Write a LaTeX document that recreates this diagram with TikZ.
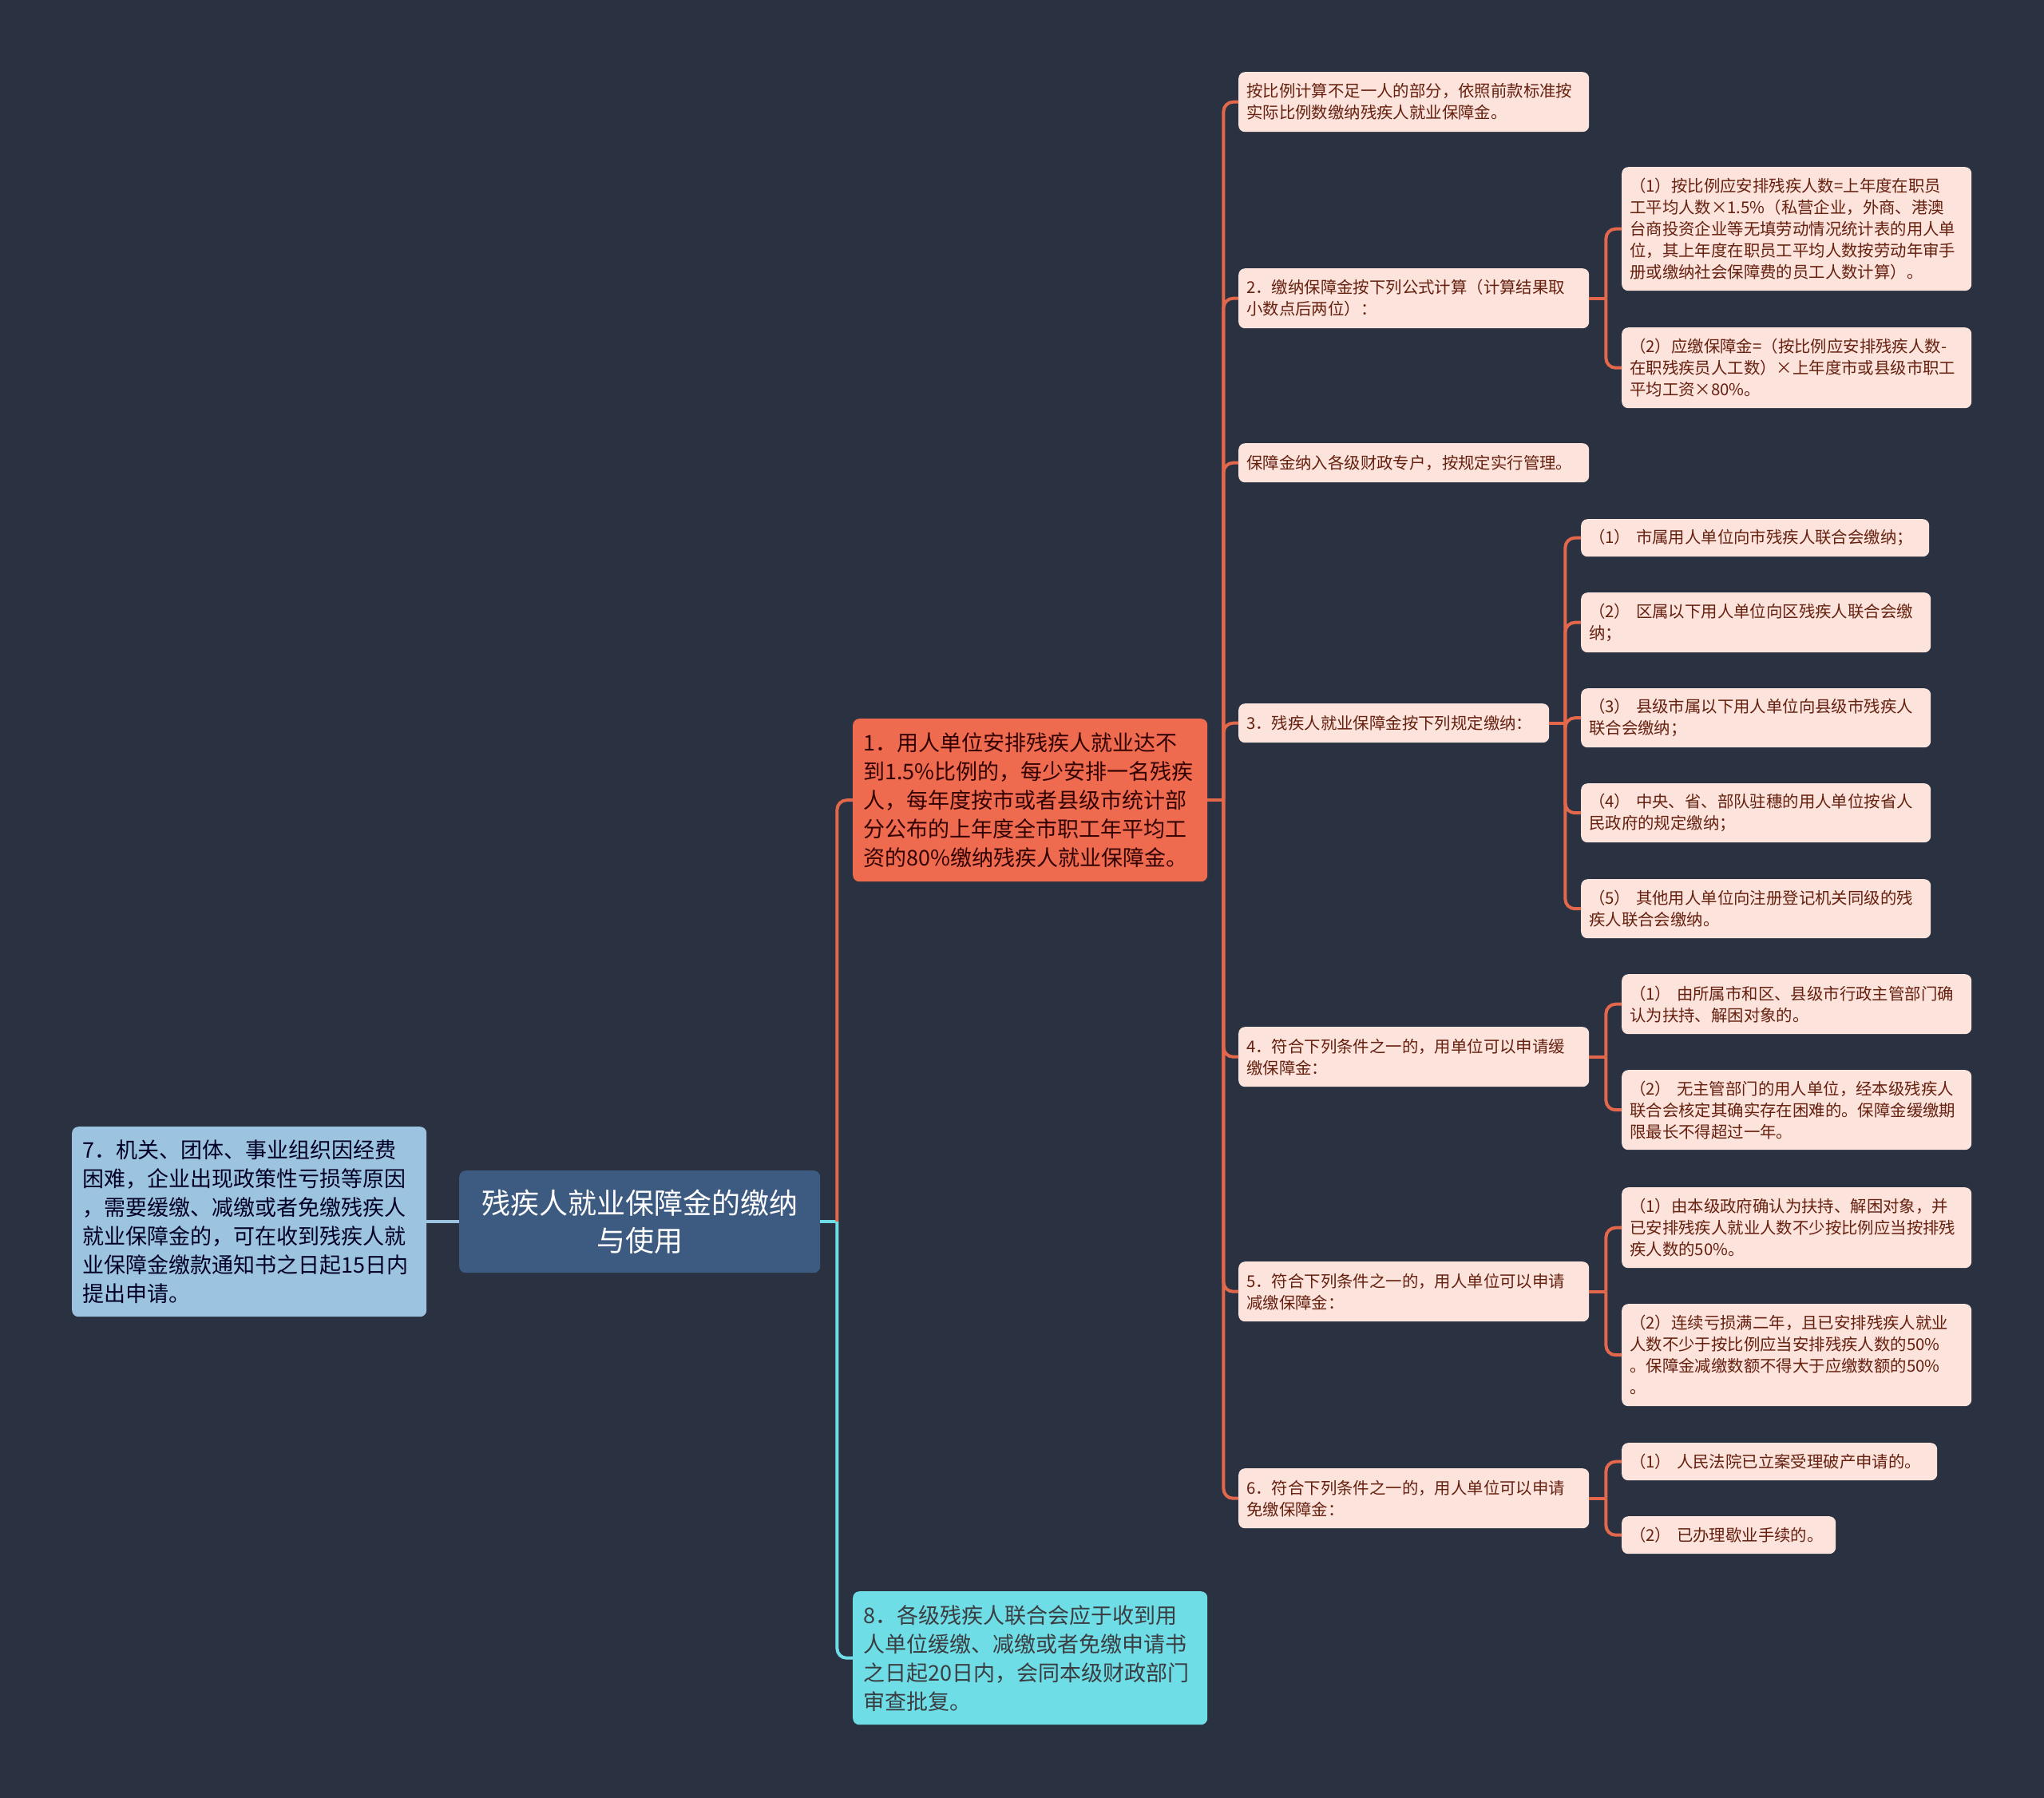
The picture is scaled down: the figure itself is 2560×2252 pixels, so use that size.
\documentclass[tikz,border=0pt]{standalone}
\usepackage{fontspec}
\usetikzlibrary{calc}
\newfontfamily\cjk{Noto Sans CJK SC}
\definecolor{bg}{HTML}{2A3242}
\definecolor{rootc}{HTML}{3D5A80}
\definecolor{orn}{HTML}{EE6B4F}
\definecolor{pink}{HTML}{FCE3DC}
\definecolor{lblue}{HTML}{9CC3DF}
\definecolor{cyanc}{HTML}{6EDDE5}
\definecolor{lineo}{HTML}{E2674B}
\definecolor{pinktxt}{HTML}{66200F}
\begin{document}
\begin{tikzpicture}[x=1pt,y=-1pt,
  base/.style={anchor=north west, rounded corners=8pt, inner ysep=0pt, inner xsep=10pt, align=left},
  lone/.style={base, font=\cjk\fontsize{27}{36}\selectfont, inner xsep=13pt},
  pk/.style={base, fill=pink, text=pinktxt, font=\cjk\fontsize{20.4}{27}\selectfont},
  conn/.style={draw=lineo, line width=4pt, rounded corners=12pt},
  cconn/.style={draw=cyanc, line width=4pt, rounded corners=12pt},
  bconn/.style={draw=lblue, line width=4pt}
]
\useasboundingbox (0,0) rectangle (2560,2252);
\fill[bg] (0,0) rectangle (2560,2252);

% root
\node[base, fill=rootc, text=white, align=center, minimum width=452pt, minimum height=128pt, text width=432pt,
  font=\cjk\fontsize{36}{47}\selectfont] (root) at (575,1466) {残疾人就业保障金的缴纳\\与使用};

% level 1
\node[lone, fill=lblue, text=black!85!blue, minimum width=444pt, minimum height=238pt, text width=418pt] (n7) at (90,1411)
 {7．机关、团体、事业组织因经费\\困难，企业出现政策性亏损等原因\\，需要缓缴、减缴或者免缴残疾人\\就业保障金的，可在收到残疾人就\\业保障金缴款通知书之日起15日内\\提出申请。};
\node[lone, fill=orn, text=black!80!red, minimum width=444pt, minimum height=204pt, text width=418pt] (n1) at (1068,900)
 {1．用人单位安排残疾人就业达不\\到1.5\%比例的，每少安排一名残疾\\人，每年度按市或者县级市统计部\\分公布的上年度全市职工年平均工\\资的80\%缴纳残疾人就业保障金。};
\node[lone, fill=cyanc, text=black!85!cyan, minimum width=444pt, minimum height=167pt, text width=418pt] (n8) at (1068,1993)
 {8．各级残疾人联合会应于收到用\\人单位缓缴、减缴或者免缴申请书\\之日起20日内，会同本级财政部门\\审查批复。};

% level 2
\node[pk, minimum width=439pt, minimum height=75pt, text width=419pt] (a) at (1551,90)
 {按比例计算不足一人的部分，依照前款标准按\\实际比例数缴纳残疾人就业保障金。};
\node[pk, minimum width=439pt, minimum height=75pt, text width=419pt] (b) at (1551,336)
 {2．缴纳保障金按下列公式计算（计算结果取\\小数点后两位）：};
\node[pk, minimum width=439pt, minimum height=49pt, text width=419pt] (c) at (1551,555)
 {保障金纳入各级财政专户，按规定实行管理。};
\node[pk, minimum width=389pt, minimum height=49pt, text width=369pt] (d) at (1551,881)
 {3．残疾人就业保障金按下列规定缴纳：};
\node[pk, minimum width=439pt, minimum height=75pt, text width=419pt] (e) at (1551,1286)
 {4．符合下列条件之一的，用单位可以申请缓\\缴保障金：};
\node[pk, minimum width=439pt, minimum height=75pt, text width=419pt] (f) at (1551,1580)
 {5．符合下列条件之一的，用人单位可以申请\\减缴保障金：};
\node[pk, minimum width=439pt, minimum height=75pt, text width=419pt] (g) at (1551,1839)
 {6．符合下列条件之一的，用人单位可以申请\\免缴保障金：};

% level 3
\node[pk, minimum width=438pt, minimum height=155pt, text width=418pt] (b1) at (2031,209)
 {（1）按比例应安排残疾人数=上年度在职员\\工平均人数×1.5\%（私营企业，外商、港澳\\台商投资企业等无填劳动情况统计表的用人单\\位，其上年度在职员工平均人数按劳动年审手\\册或缴纳社会保障费的员工人数计算）。};
\node[pk, minimum width=438pt, minimum height=101pt, text width=418pt] (b2) at (2031,410)
 {（2）应缴保障金=（按比例应安排残疾人数-\\在职残疾员人工数）×上年度市或县级市职工\\平均工资×80\%。};
\node[pk, minimum width=436pt, minimum height=47pt, text width=416pt] (d1) at (1980,650)
 {（1）~市属用人单位向市残疾人联合会缴纳；};
\node[pk, minimum width=438pt, minimum height=75pt, text width=418pt] (d2) at (1980,742)
 {（2）~区属以下用人单位向区残疾人联合会缴\\纳；};
\node[pk, minimum width=438pt, minimum height=74pt, text width=418pt] (d3) at (1980,862)
 {（3）~县级市属以下用人单位向县级市残疾人\\联合会缴纳；};
\node[pk, minimum width=438pt, minimum height=74pt, text width=418pt] (d4) at (1980,981)
 {（4）~中央、省、部队驻穗的用人单位按省人\\民政府的规定缴纳；};
\node[pk, minimum width=438pt, minimum height=74pt, text width=418pt] (d5) at (1980,1101)
 {（5）~其他用人单位向注册登记机关同级的残\\疾人联合会缴纳。};
\node[pk, minimum width=438pt, minimum height=75pt, text width=418pt] (e1) at (2031,1220)
 {（1）~由所属市和区、县级市行政主管部门确\\认为扶持、解困对象的。};
\node[pk, minimum width=438pt, minimum height=100pt, text width=418pt] (e2) at (2031,1340)
 {（2）~无主管部门的用人单位，经本级残疾人\\联合会核定其确实存在困难的。保障金缓缴期\\限最长不得超过一年。};
\node[pk, minimum width=438pt, minimum height=101pt, text width=418pt] (f1) at (2031,1487)
 {（1）由本级政府确认为扶持、解困对象，并\\已安排残疾人就业人数不少按比例应当按排残\\疾人数的50\%。};
\node[pk, minimum width=438pt, minimum height=128pt, text width=418pt] (f2) at (2031,1633)
 {（2）连续亏损满二年，且已安排残疾人就业\\人数不少于按比例应当安排残疾人数的50\%\\。保障金减缴数额不得大于应缴数额的50\%\\。};
\node[pk, minimum width=395pt, minimum height=47pt, text width=375pt] (g1) at (2031,1807)
 {（1）~人民法院已立案受理破产申请的。};
\node[pk, minimum width=268pt, minimum height=47pt, text width=248pt] (g2) at (2031,1899)
 {（2）~已办理歇业手续的。};

% connectors root
\draw[bconn] (root.west) -- (n7.east);
\coordinate (s0) at ($(root.east)+(21,0)$);
\draw[cconn] (root.east) -- (s0);
\draw[conn] (s0) |- (n1.west);
\draw[cconn] (s0) |- (n8.west);

% n1 children
\coordinate (s1) at ($(n1.east)+(20,0)$);
\draw[conn] (n1.east) -- (s1);
\foreach \c in {a,b,c,d,e,f,g} \draw[conn] (s1) |- (\c.west);

% b
\coordinate (sb) at ($(b.east)+(21,0)$);
\draw[conn] (b.east) -- (sb);
\foreach \c in {b1,b2} \draw[conn] (sb) |- (\c.west);
% d
\coordinate (sd) at ($(d.east)+(20,0)$);
\draw[conn] (d.east) -- (sd);
\foreach \c in {d1,d2,d3,d4,d5} \draw[conn] (sd) |- (\c.west);
% e
\coordinate (se) at ($(e.east)+(21,0)$);
\draw[conn] (e.east) -- (se);
\foreach \c in {e1,e2} \draw[conn] (se) |- (\c.west);
% f
\coordinate (sf) at ($(f.east)+(21,0)$);
\draw[conn] (f.east) -- (sf);
\foreach \c in {f1,f2} \draw[conn] (sf) |- (\c.west);
% g
\coordinate (sg) at ($(g.east)+(21,0)$);
\draw[conn] (g.east) -- (sg);
\foreach \c in {g1,g2} \draw[conn] (sg) |- (\c.west);
\end{tikzpicture}
\end{document}
